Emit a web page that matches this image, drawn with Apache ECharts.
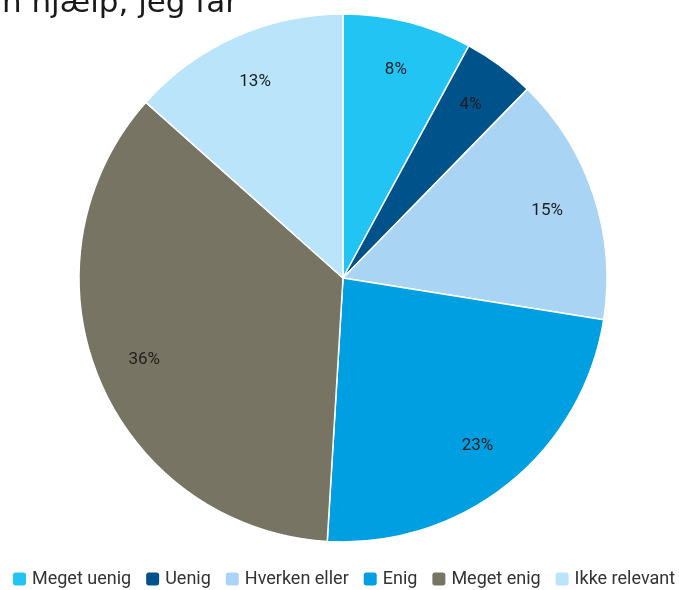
<!DOCTYPE html>
<html>
<head>
<meta charset="utf-8">
<script src="https://cdn.jsdelivr.net/npm/echarts@6/dist/echarts.min.js"></script>
<style>
html,body{margin:0;padding:0;background:#fff;}
#chart{width:679px;height:590px;}
</style>
</head>
<body>
<div id="chart"></div>
<script>
/*数据*/
var categories = ["Meget uenig", "Uenig", "Hverken eller", "Enig", "Meget enig", "Ikke relevant"];
var values = [7.9, 4.4, 15.2, 23.4, 35.6, 13.4];
var colors = ["#22c4f4", "#00528a", "#a9d4f4", "#009fe2", "#787463", "#b9e4fa"];
var titleText = "n hjælp, jeg får";

var chart = echarts.init(document.getElementById("chart"));
var pieData = [];
for (var i = 0; i < categories.length; i++) {
    pieData.push({name: categories[i], value: values[i], itemStyle: {color: colors[i]}});
}
var option = {
    animation: false,
    color: colors,
    graphic: [{
        type: "text",
        right: 441,
        top: -12,
        style: {
            text: titleText,
            font: "31px 'DejaVu Sans'",
            fill: "#1a1a1a"
        }
    }],
    legend: {
        bottom: 2,
        left: 11,
        width: 668,
        padding: 0,
        itemWidth: 15,
        itemHeight: 15,
        itemGap: 13,
        icon: "roundRect",
        textStyle: {fontFamily: "Roboto", fontSize: 18, color: "#333"},
        data: categories
    },
    series: [
        {
            name: "pie",
            type: "pie",
            center: [343, 278],
            radius: [0, 264],
            clockwise: true,
            startAngle: 90,
            label: {show: false},
            labelLine: {show: false},
            itemStyle: {borderColor: "#fff", borderWidth: 1.5},
            data: pieData
        },
        {
            //透明的一层，只用来放百分比标签
            name: "labels",
            type: "pie",
            center: [343, 278],
            radius: [160, 264],
            silent: true,
            label: {
                show: true,
                position: "inside",
                fontFamily: "Roboto",
                fontSize: 17,
                color: "#1e1e1e",
                formatter: function (p) { return Math.round(p.percent) + "%"; }
            },
            labelLine: {show: false},
            itemStyle: {color: "rgba(0,0,0,0)"},
            emphasis: {disabled: true},
            data: categories.map(function (c, i) { return {name: c, value: values[i]}; })
        }
    ]
};
chart.setOption(option);
</script>
</body>
</html>
